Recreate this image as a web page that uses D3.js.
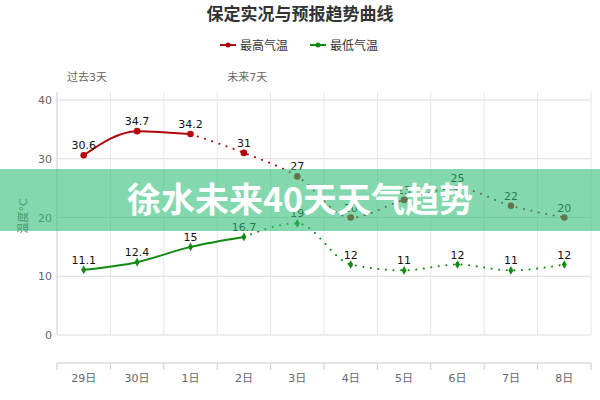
<!DOCTYPE html>
<head>
  <meta charset="utf-8">
  <script src="https://cdn.jsdelivr.net/npm/d3@7"></script>
  <style>
    body { margin: 0; background: #fff; }
    svg { font-family: "DejaVu Sans", "Noto Sans CJK SC", sans-serif; }
    .grid line { stroke: #e6e6e6; }
    .tick-label { fill: #666; font-size: 11px; }
  </style>
</head>
<body>
<div id="chart"></div>
<script>
var days = ["29日", "30日", "1日", "2日", "3日", "4日", "5日", "6日", "7日", "8日"];
var maxTemps = [30.6, 34.7, 34.2, 31, 27, 20, 23, 25, 22, 20];
var minTemps = [11.1, 12.4, 15, 16.7, 19, 12, 11, 12, 11, 12];
var maxSolidCount = 3;   // 实况 points for the high line
var minSolidCount = 4;   // 实况 points for the low line
var yTicks = [0, 10, 20, 30, 40];
var periodLabels = [{ text: "过去3天", at: 0 }, { text: "未来7天", at: 3 }];

var width = 600, height = 400;
var red = "#b0060c", green = "#118a11";

var svg = d3.select("#chart").append("svg")
    .attr("width", width)
    .attr("height", height);

var x = d3.scaleBand().domain(days).range([57, 591]);
var y = d3.scaleLinear().domain([0, 40]).range([335, 100]);

// title
svg.append("text")
    .attr("x", 300).attr("y", 20)
    .attr("text-anchor", "middle")
    .style("font-size", "17px").style("font-weight", "bold")
    .style("fill", "#333")
    .text("保定实况与预报趋势曲线");

// legend
var legend = [{ name: "最高气温", color: red, x: 220 }, { name: "最低气温", color: green, x: 310 }];
var lg = svg.selectAll(".legend").data(legend).enter().append("g")
    .attr("transform", function(d) { return "translate(" + d.x + ",45)"; });
lg.append("line").attr("x1", 0).attr("x2", 16)
    .style("stroke", function(d) { return d.color; }).style("stroke-width", 2);
lg.append("circle").attr("cx", 8).attr("r", 2.5)
    .style("fill", function(d) { return d.color; });
lg.append("text").attr("x", 20).attr("y", 4.5)
    .style("font-size", "12px").style("fill", "#333")
    .text(function(d) { return d.name; });

// gridlines
var edges = days.map(function(d) { return x(d); }).concat([x.range()[1]]);
var grid = svg.append("g").attr("class", "grid");
grid.selectAll(".v").data(edges.slice(1)).enter().append("line")
    .attr("x1", function(d) { return d; }).attr("x2", function(d) { return d; })
    .attr("y1", 92).attr("y2", 335);
grid.selectAll(".h").data(yTicks).enter().append("line")
    .attr("x1", 57).attr("x2", 591)
    .attr("y1", function(d) { return y(d); }).attr("y2", function(d) { return y(d); })
    .style("stroke", "#dcdcdc");
svg.append("line").attr("x1", 57).attr("x2", 57).attr("y1", 92).attr("y2", 335)
    .style("stroke", "#ccc");

// y tick labels
svg.selectAll(".ylab").data(yTicks).enter().append("text")
    .attr("class", "tick-label")
    .attr("x", 52).attr("y", function(d) { return y(d) + 4; })
    .attr("text-anchor", "end")
    .text(function(d) { return d; });

svg.append("text")
    .attr("transform", "translate(27,216) rotate(-90)")
    .attr("text-anchor", "middle")
    .style("font-size", "11px").style("fill", "#666")
    .text("温度°C");

// period labels
svg.selectAll(".period").data(periodLabels).enter().append("text")
    .attr("x", function(d) { return x(days[d.at]) + 10; })
    .attr("y", 81)
    .style("font-size", "11px").style("fill", "#666")
    .text(function(d) { return d.text; });

// bottom axis
var xAxis = svg.append("g");
xAxis.append("line").attr("x1", 57).attr("x2", 591).attr("y1", 363).attr("y2", 363)
    .style("stroke", "#ccc");
xAxis.selectAll(".tk").data(edges).enter().append("line")
    .attr("x1", function(d) { return d; }).attr("x2", function(d) { return d; })
    .attr("y1", 363).attr("y2", 370).style("stroke", "#ccc");
xAxis.selectAll(".xl").data(days).enter().append("text")
    .attr("class", "tick-label")
    .attr("x", function(d) { return x(d) + x.bandwidth() / 2; })
    .attr("y", 382)
    .attr("text-anchor", "middle")
    .text(function(d) { return d; });

// series
var cx = function(i) { return x(days[i]) + x.bandwidth() / 2; };
var line = d3.line()
    .x(function(d) { return cx(d.i); })
    .y(function(d) { return y(d.v); })
    .curve(d3.curveMonotoneX);

function drawSeries(values, solidCount, color, symbol, size) {
  var pts = values.map(function(v, i) { return { v: v, i: i }; });
  svg.append("path").datum(pts.slice(0, solidCount))
      .attr("d", line)
      .style("fill", "none").style("stroke", color).style("stroke-width", 2);
  svg.append("path").datum(pts.slice(solidCount - 1))
      .attr("d", line)
      .style("fill", "none").style("stroke", color).style("stroke-width", 2)
      .style("stroke-linecap", "round")
      .style("stroke-dasharray", "0.1,7.5");
  svg.selectAll(null).data(pts).enter().append("path")
      .attr("transform", function(d) { return "translate(" + cx(d.i) + "," + y(d.v) + ")"; })
      .attr("d", d3.symbol().type(symbol).size(size))
      .style("fill", color);
  svg.selectAll(null).data(pts).enter().append("text")
      .attr("x", function(d) { return cx(d.i); })
      .attr("y", function(d) { return y(d.v) - 6; })
      .attr("text-anchor", "middle")
      .style("font-size", "11px").style("fill", "#111")
      .text(function(d) { return d.v; });
}

drawSeries(maxTemps, maxSolidCount, red, d3.symbolCircle, 34);
drawSeries(minTemps, minSolidCount, green, d3.symbolDiamond, 22);

// overlay banner
svg.append("rect")
    .attr("x", 0).attr("y", 169).attr("width", width).attr("height", 62)
    .style("fill", "rgba(50,190,120,0.6)");
svg.append("text")
    .attr("x", 300).attr("y", 212)
    .attr("text-anchor", "middle")
    .style("font-family", "'Noto Sans CJK SC', sans-serif")
    .style("font-size", "34px").style("font-weight", "bold")
    .style("fill", "#fff")
    .text("徐水未来40天天气趋势");
</script>
</body>
